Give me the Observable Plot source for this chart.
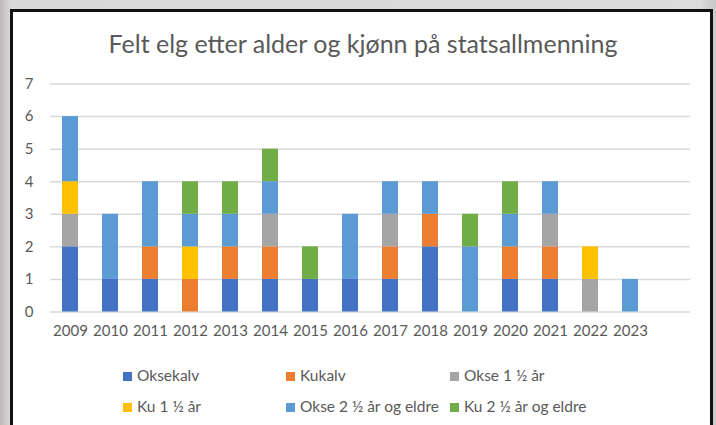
<!DOCTYPE html>
<html>
<head>
<meta charset="utf-8">
<script src="https://cdn.jsdelivr.net/npm/d3@7"></script>
<script src="https://cdn.jsdelivr.net/npm/@observablehq/plot@0.6"></script>
<style>
  html, body { margin: 0; padding: 0; }
  body { width: 716px; height: 425px; overflow: hidden; position: relative;
         background: linear-gradient(to right, #bdb9b8 0px, #d8d8d8 10px, #dcdcdc 700px, #c8c8c8 716px);
         font-family: Lato, "Liberation Sans", sans-serif; }
  #frame { position: absolute; left: 10px; top: 9px; width: 697px; height: 430px;
           border: 3px solid #111; background: #fff; }
  #title { position: absolute; left: 0; width: 726px; top: 28px; text-align: center;
           font-size: 25px; line-height: 30px; color: #595959; }
  #chart { position: absolute; left: 0; top: 60px; }
  .leg { position: absolute; font-size: 15.5px; color: #595959; white-space: nowrap; line-height: 18px; }
  .sw { display: inline-block; width: 9px; height: 9px; margin-right: 5px; vertical-align: 0px; }
</style>
</head>
<body>
<div id="frame"></div>
<div id="title">Felt elg etter alder og kjønn på statsallmenning</div>
<div id="chart"></div>
<div id="legend"></div>
<script>
const years = ["2009","2010","2011","2012","2013","2014","2015","2016","2017","2018","2019","2020","2021","2022","2023"];
const categories = ["Oksekalv","Kukalv","Okse 1 ½ år","Ku 1 ½ år","Okse 2 ½ år og eldre","Ku 2 ½ år og eldre"];
const colors = ["#4472C4","#ED7D31","#A5A5A5","#FFC000","#5B9BD5","#70AD47"];
const oksekalv   = [2,1,1,0,1,1,1,1,1,2,0,1,1,0,0];
const kukalv     = [0,0,1,1,1,1,0,0,1,1,0,1,1,0,0];
const okse1_5    = [1,0,0,0,0,1,0,0,1,0,0,0,1,1,0];
const ku1_5      = [1,0,0,1,0,0,0,0,0,0,0,0,0,1,0];
const okse2_5    = [2,2,2,1,1,1,0,2,1,1,2,1,1,0,1];
const ku2_5      = [0,0,0,1,1,1,1,0,0,0,1,1,0,0,0];
const yTicks = [0,1,2,3,4,5,6,7];

const series = [oksekalv, kukalv, okse1_5, ku1_5, okse2_5, ku2_5];
const data = [];
series.forEach((vals, si) => vals.forEach((v, i) => {
  if (v > 0) data.push({year: years[i], category: categories[si], value: v});
}));

const plot = Plot.plot({
  width: 716,
  height: 300,
  marginLeft: 50,
  marginRight: 26,
  marginTop: 23.5,
  marginBottom: 48.5,
  style: {fontFamily: "Lato, 'Liberation Sans', sans-serif", fontSize: "15px", color: "#595959", background: "transparent"},
  x: {domain: [...years, " "], paddingInner: 0.6, paddingOuter: 0.3, label: null, tickSize: 0, tickPadding: 13},
  y: {domain: [0, 7], ticks: yTicks, label: null, tickSize: 0, tickPadding: 17, grid: false},
  color: {domain: categories, range: colors},
  marks: [
    Plot.gridY(yTicks, {stroke: "#d9d9d9", strokeOpacity: 1, strokeWidth: 1.5}),
    Plot.barY(data, {x: "year", y: "value", fill: "category", order: categories}),
    Plot.axisY(yTicks, {tickSize: 0, tickPadding: 17, fill: "#595959"}),
    Plot.axisX({tickSize: 0, tickPadding: 13, fill: "#595959"})
  ]
});
document.getElementById("chart").appendChild(plot);

const legPos = [[123,366],[286,366],[450,366],[123,397],[286,397],[450,397]];
const legend = document.getElementById("legend");
categories.forEach((c, i) => {
  const d = document.createElement("div");
  d.className = "leg";
  d.style.left = legPos[i][0] + "px";
  d.style.top = legPos[i][1] + "px";
  d.innerHTML = `<span class="sw" style="background:${colors[i]}"></span>${c}`;
  legend.appendChild(d);
});
</script>
</body>
</html>
